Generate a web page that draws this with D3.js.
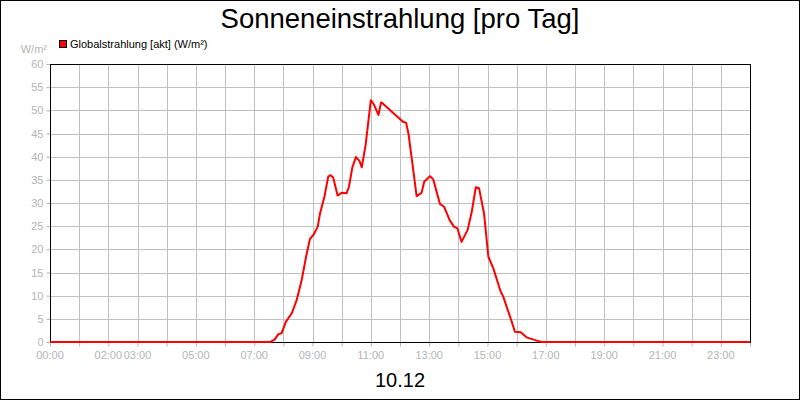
<!DOCTYPE html>
<html><head><meta charset="utf-8">
<script src="https://cdn.jsdelivr.net/npm/d3@7"></script>
<style>body{margin:0;background:#fff;}svg{display:block;font-family:"Liberation Sans",Arial,sans-serif;}</style>
</head><body>
<svg id="c" width="800" height="400"></svg>
<script>
const hours = [0,7.55,7.7,7.83,7.94,8.09,8.29,8.46,8.63,8.78,8.91,9.03,9.18,9.26,9.41,9.54,9.62,9.71,9.86,10.0,10.17,10.25,10.37,10.49,10.61,10.69,10.82,11.0,11.11,11.26,11.35,11.37,12.09,12.21,12.29,12.44,12.57,12.74,12.83,13.03,13.14,13.37,13.51,13.71,13.85,13.97,14.11,14.32,14.46,14.60,14.71,14.88,15.03,15.20,15.45,15.54,15.83,15.94,16.14,16.34,16.69,16.85,24];
const globalstrahlung = [0,0,0.5,1.7,1.9,4.4,6.2,9.1,13.4,18.4,22.2,23.1,24.9,27.8,31.4,35.7,36.0,35.5,31.6,32.2,32.1,33.5,37.8,39.9,39.1,37.7,42.5,52.2,51.2,49.0,51.7,51.7,47.6,47.3,45.0,37.8,31.5,32.2,34.6,35.8,35.1,29.8,29.2,26.2,24.9,24.5,21.6,24.2,28.1,33.4,33.2,27.8,18.4,15.9,10.9,9.8,4.4,2.2,2.1,1.0,0.3,0,0];
const yTicks = [0,5,10,15,20,25,30,35,40,45,50,55,60];
const xTickHours = d3.range(0,25);
const xLabelHours = [0,2,3,5,7,9,11,13,15,17,19,21,23];
const xLabels = ["00:00","02:00","03:00","05:00","07:00","09:00","11:00","13:00","15:00","17:00","19:00","21:00","23:00"];
const title = "Sonneneinstrahlung [pro Tag]";
const subtitle = "10.12";
const seriesName = "Globalstrahlung [akt] (W/m²)";
const unit = "W/m²";

const svg = d3.select("#c");
const L=50,R=750,T=64,B=342;
const x = d3.scaleLinear().domain([0,24]).range([L,R]);
const y = d3.scaleLinear().domain([0,60]).range([B,T]);
const grid="#c0c0c0", gray="#b4b4b4";

svg.append("rect").attr("x",0.5).attr("y",0.5).attr("width",799).attr("height",399).attr("fill","#fff").attr("stroke","#000");

// grid
svg.append("g").selectAll("line").data(xTickHours.slice(1,-1)).join("line")
  .attr("x1",d=>Math.round(x(d))+0.5).attr("x2",d=>Math.round(x(d))+0.5).attr("y1",T).attr("y2",B)
  .attr("stroke",grid);
svg.append("g").selectAll("line").data(yTicks.slice(1,-1)).join("line")
  .attr("y1",d=>Math.round(y(d))+0.5).attr("y2",d=>Math.round(y(d))+0.5).attr("x1",L).attr("x2",R)
  .attr("stroke",grid);

// y axis
const ya = svg.append("g").attr("transform",`translate(${L+0.5},0)`)
  .call(d3.axisLeft(y).tickValues(yTicks).tickSize(4).tickPadding(3).tickSizeOuter(0));
ya.select(".domain").remove();
ya.selectAll(".tick line").attr("stroke",gray);
ya.selectAll(".tick text").attr("fill",gray).attr("font-size",11).attr("font-family","Liberation Sans, Arial, sans-serif");

// x axis
const xa = svg.append("g").attr("transform",`translate(0,${B+0.5})`)
  .call(d3.axisBottom(x).tickValues(xTickHours).tickSize(4).tickFormat(()=>"").tickSizeOuter(0));
xa.select(".domain").remove();
xa.selectAll(".tick line").attr("stroke",gray);
svg.append("g").selectAll("text").data(xLabelHours).join("text")
  .attr("x",d=>x(d)).attr("y",B+17).attr("text-anchor","middle")
  .attr("fill",gray).attr("font-size",11).text((d,i)=>xLabels[i]);

// plot frame
svg.append("rect").attr("x",L+0.5).attr("y",T+0.5).attr("width",R-L).attr("height",B-T)
  .attr("fill","none").attr("stroke","#000");

// line
const data = hours.map((h,i)=>({h,v:globalstrahlung[i]}));
svg.append("path").datum(data)
  .attr("d",d3.line().x(d=>x(d.h)).y(d=>y(d.v)))
  .attr("fill","none").attr("stroke","#ff0000").attr("stroke-width",2).attr("stroke-linejoin","round");

// title
svg.append("text").attr("x",400).attr("y",28).attr("text-anchor","middle")
  .attr("font-size",27.5).attr("fill","#000").text(title);
svg.append("text").attr("x",400).attr("y",387).attr("text-anchor","middle")
  .attr("font-size",20).attr("fill","#000").text(subtitle);

// legend
svg.append("rect").attr("x",59.5).attr("y",40.5).attr("width",7).attr("height",7)
  .attr("fill","#ff0000").attr("stroke","#000");
svg.append("text").attr("x",70).attr("y",48).attr("font-size",11).attr("fill","#000").text(seriesName);
svg.append("text").attr("x",47).attr("y",53).attr("text-anchor","end").attr("font-size",11).attr("fill",gray).text(unit);
</script>
</body></html>
